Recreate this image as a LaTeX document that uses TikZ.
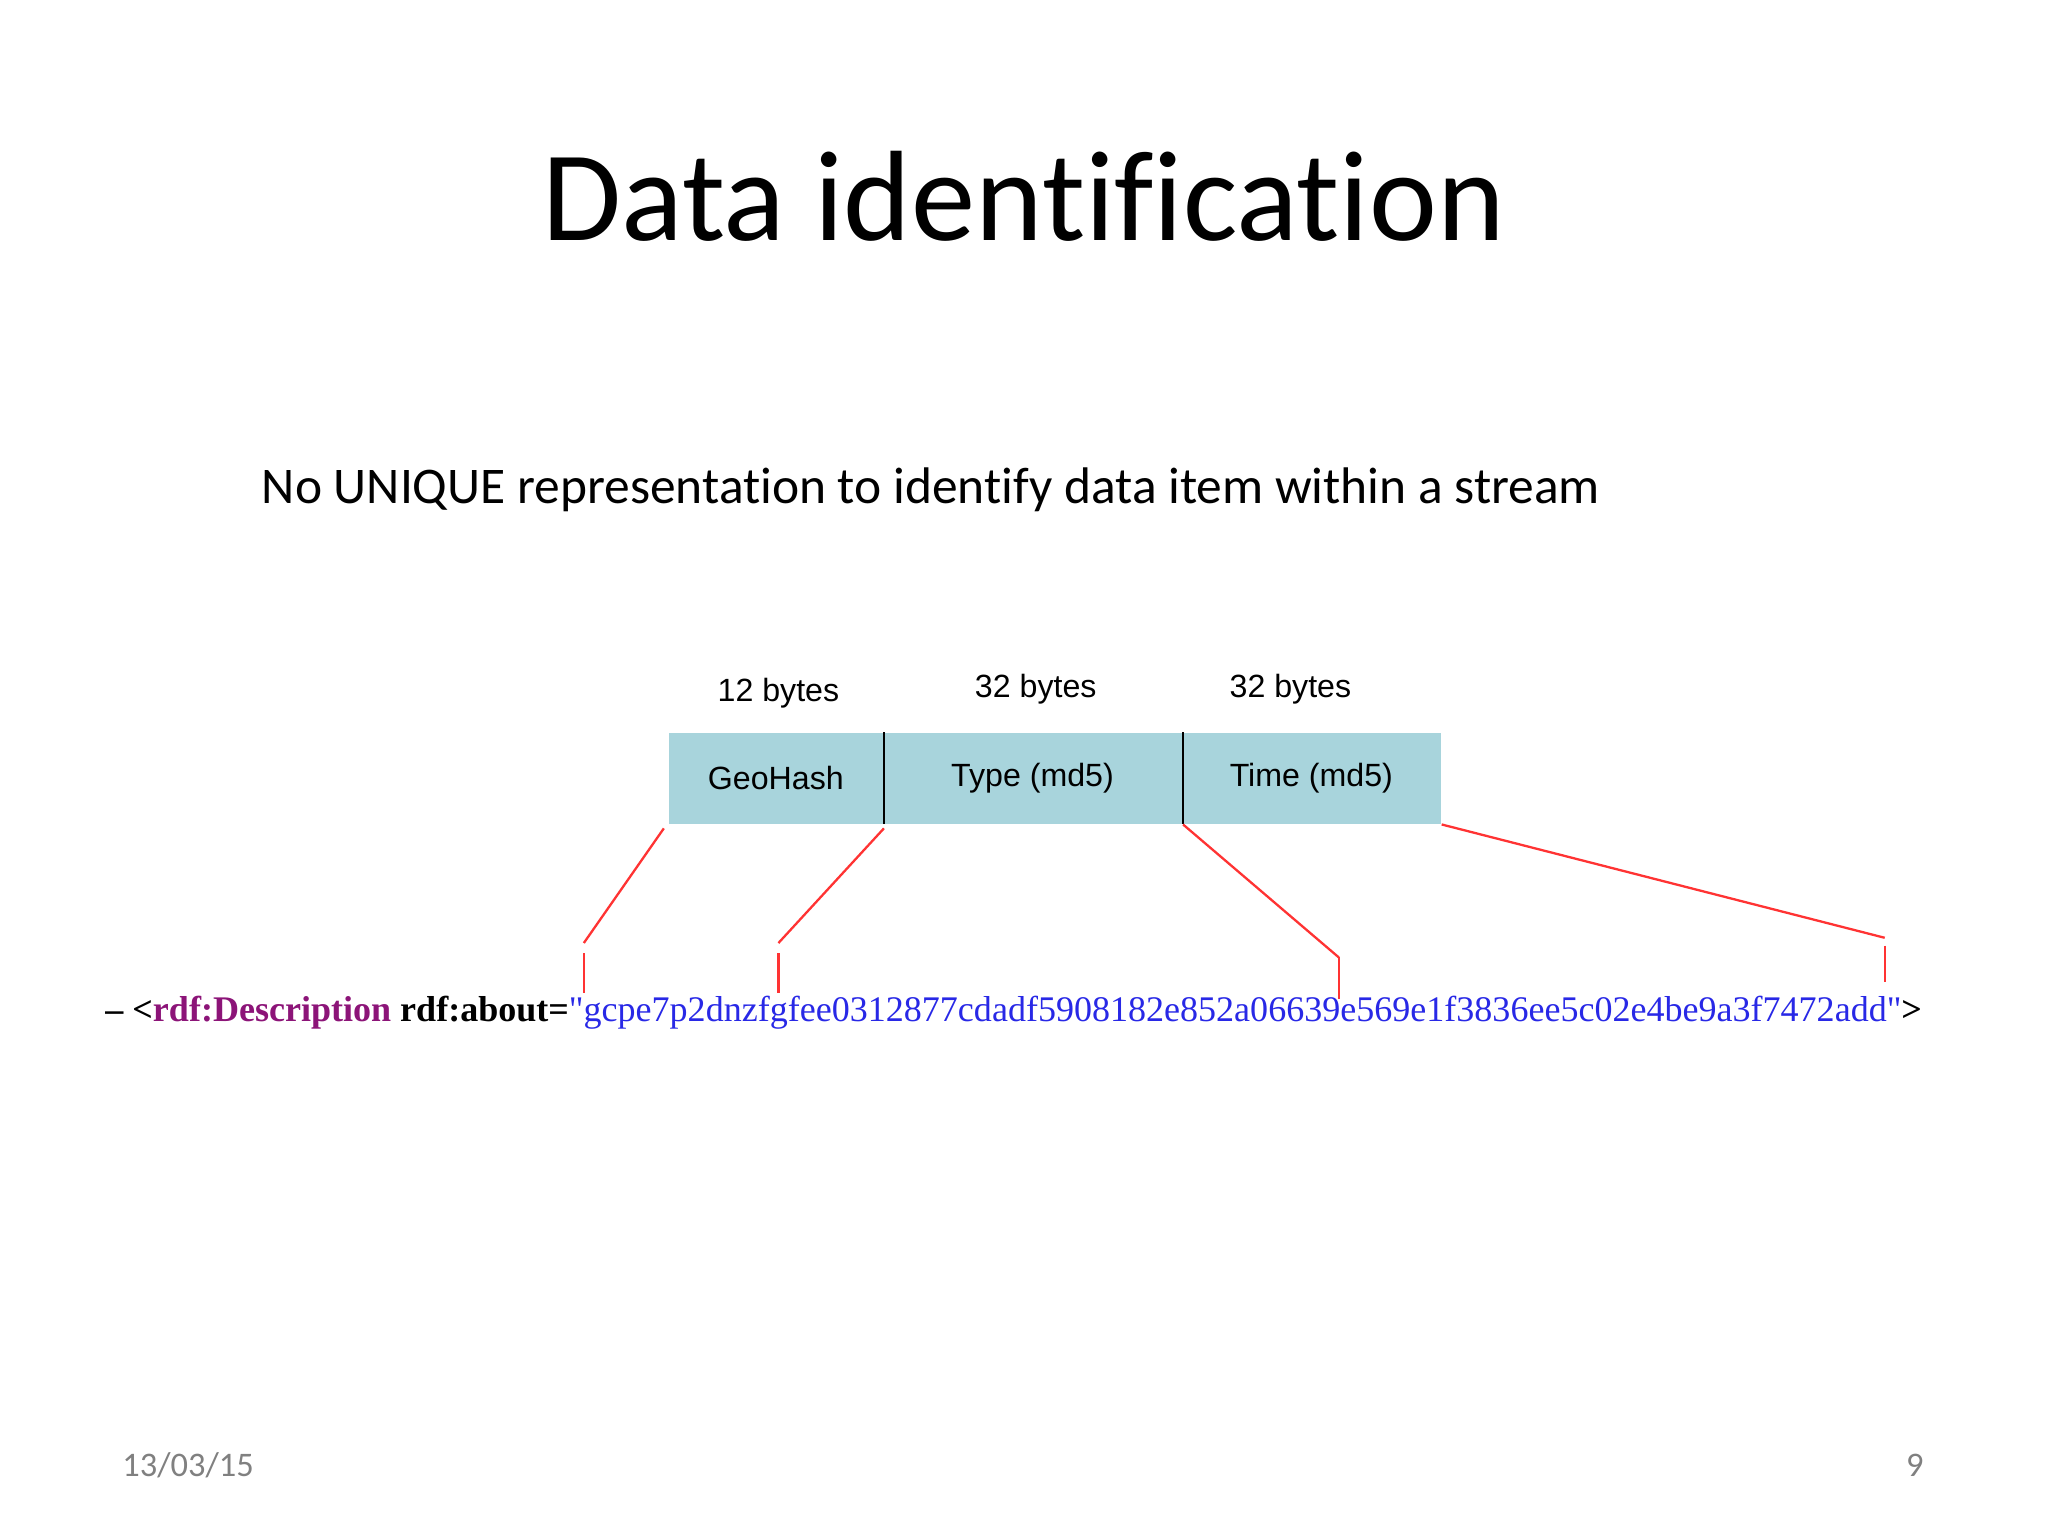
\documentclass[tikz,border=0pt]{standalone}
\usepackage{fontspec}
\setmainfont[Ligatures={NoCommon}]{Carlito}
\newfontfamily\arialf{Liberation Sans}
\newfontfamily\timesf{Liberation Serif}
\definecolor{boxblue}{RGB}{168,212,220}
\definecolor{rdfpurple}{RGB}{140,20,120}
\definecolor{rdfblue}{RGB}{40,40,230}
\definecolor{datecol}{RGB}{128,128,128}
\begin{document}
\begin{tikzpicture}[x=0.01cm,y=-0.01cm,
  field/.style={draw=none,fill=boxblue,minimum height=0.69cm,inner sep=0pt,font=\arialf\fontsize{7}{9}\selectfont},
  lab/.style={font=\arialf\fontsize{7}{9}\selectfont},
  redl/.style={draw=red!80,line width=0.5pt}]
\useasboundingbox (0,0) rectangle (1568,1176);
\node (title) at (784,150) {\fontsize{28}{33}\selectfont Data identification};
\node[anchor=west] (sub) at (188,375) {\fontsize{11.2}{13}\selectfont No UNIQUE representation to identify data item within a stream};
\node[field,minimum width=1.64cm] (geo) at (594,596) {GeoHash};
\node[field,minimum width=2.29cm] (type) at (790.5,596) {Type (md5)};
\node[field,minimum width=1.98cm] (time) at (1004,596) {Time (md5)};
\draw[line width=0.6pt] (geo.north east) -- (geo.south east);
\draw[line width=0.6pt] (type.north east) -- (type.south east);
\node[lab] (b1) at (596,531) {12 bytes};
\node[lab] (b2) at (793,528) {32 bytes};
\node[lab] (b3) at (988,528) {32 bytes};
\node[anchor=west,inner sep=0pt] (rdf) at (80,775) {\resizebox{13.9cm}{!}{\timesf\textbf{– <}\textcolor{rdfpurple}{\textbf{rdf:Description}} \textbf{rdf:about=}\textcolor{rdfblue}{"gcpe7p2dnzfgfee0312877cdadf5908182e852a06639e569e1f3836ee5c02e4be9a3f7472add"}\textbf{>}}};
\coordinate (a1) at (447,722); \coordinate (a1b) at (447,760);
\coordinate (a2) at (596,722); \coordinate (a2b) at (596,760);
\coordinate (a3) at (1025,733); \coordinate (a3b) at (1025,765);
\coordinate (a4) at (1443,718); \coordinate (a4b) at (1443,752);
\draw[redl] ([xshift=-0.03cm,yshift=-0.03cm]geo.south west) -- (a1);
\draw[redl] ([yshift=-0.03cm]geo.south east) -- (a2);
\draw[redl] (type.south east) -- (a3);
\draw[redl] (time.south east) -- (a4);
\draw[redl] ([yshift=-0.08cm]a1) -- (a1b);
\draw[redl] ([yshift=-0.08cm]a2) -- (a2b);
\draw[redl] (a3) -- (a3b);
\draw[redl] ([yshift=-0.06cm]a4) -- (a4b);
\node[text=datecol] (date) at (144,1122) {\fontsize{7.5}{9}\selectfont 13/03/15};
\node[text=datecol] (pg) at (1466,1122) {\fontsize{7.5}{9}\selectfont 9};
\end{tikzpicture}
\end{document}
